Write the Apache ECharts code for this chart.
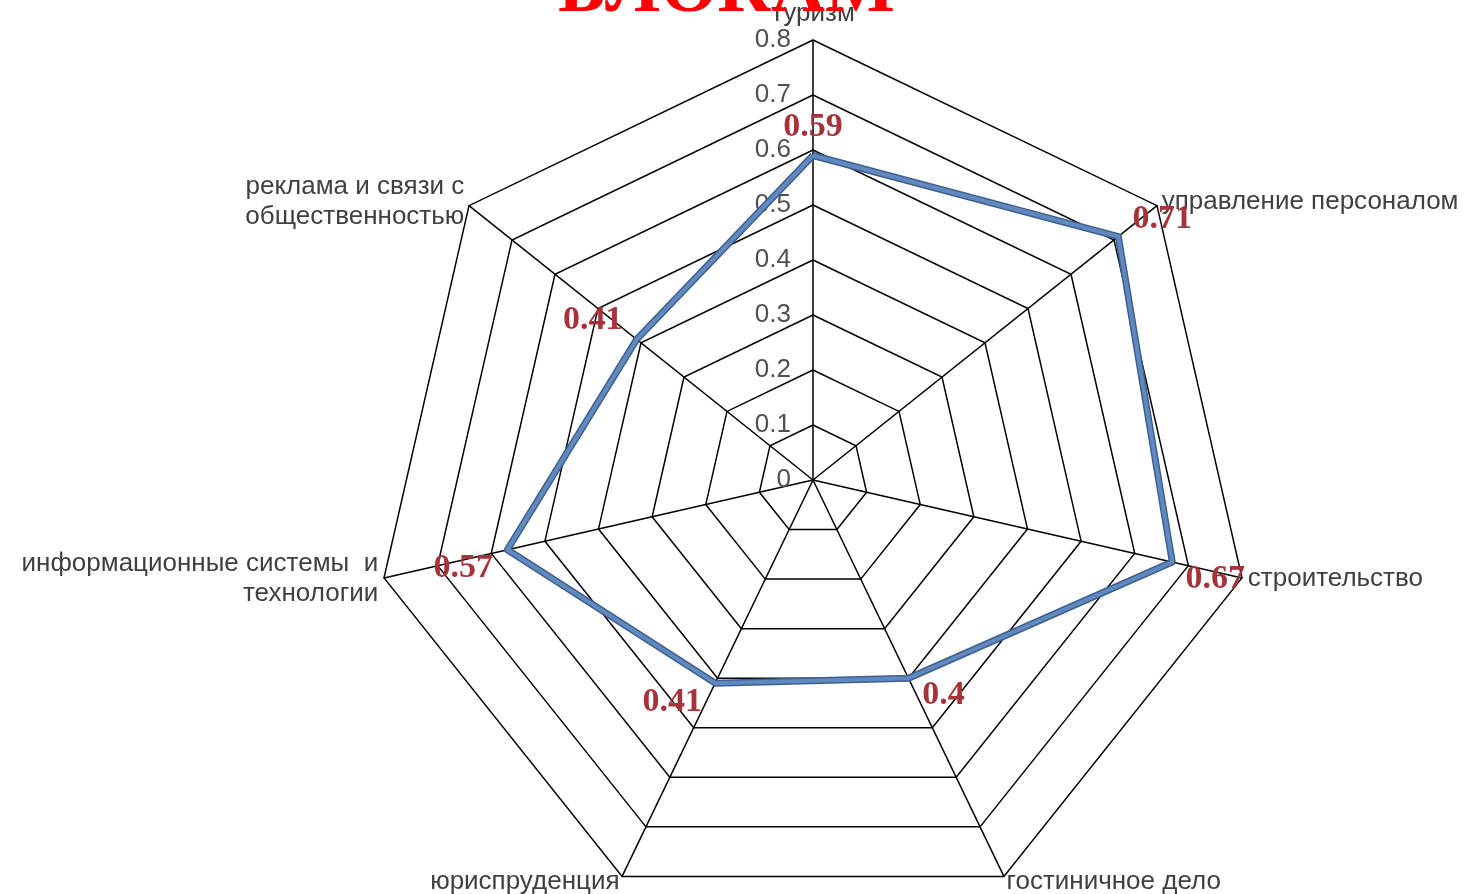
<!DOCTYPE html>
<html><head><meta charset="utf-8">
<script src="https://cdn.jsdelivr.net/npm/echarts@6/dist/echarts.min.js"></script>
<style>html,body{margin:0;padding:0;background:#fff}#c{width:1471px;height:894px}</style>
</head><body><div id="c"></div>
<script>
const titleText = 'БЛОКАМ';
const indicatorNames = ['туризм', 'реклама и связи с\nобщественностью', 'информационные системы  и\nтехнологии', 'юриспруденция', 'гостиничное дело', 'строительство', 'управление персоналом'];
const values = [0.59, 0.41, 0.57, 0.41, 0.4, 0.67, 0.71];
const axisMin = 0;
const axisMax = 0.8;
const tickLabels = ['0', '0.1', '0.2', '0.3', '0.4', '0.5', '0.6', '0.7', '0.8'];

// label placement (style, not data)
const labelOffsets = [[0, -28], [-44, -19], [-44, 18], [-43, 19], [35, 17], [43, 17], [44, -17]];

const chart = echarts.init(document.getElementById('c'));
const step = (axisMax - axisMin) / (tickLabels.length - 1);

const labelSeries = indicatorNames.map((n, i) => ({
  type: 'radar',
  symbol: 'circle',
  symbolSize: 1,
  itemStyle: { color: 'rgba(0,0,0,0)' },
  lineStyle: { opacity: 0, width: 0 },
  z: 6,
  data: [{
    value: values.map((v, j) => (j === i ? v : 0)),
    label: {
      show: true,
      position: 'inside',
      offset: labelOffsets[i],
      formatter: p => (p.value > 0 ? String(p.value) : ''),
      color: '#a8323a',
      fontFamily: '"Liberation Serif", "Times New Roman", serif',
      fontWeight: 'bold',
      fontSize: 34
    }
  }]
}));

chart.setOption({
  animation: false,
  backgroundColor: '#fff',
  title: {
    text: titleText,
    left: 553,
    top: -50,
    textStyle: {
      color: '#ff0000',
      fontFamily: '"Liberation Serif", "Times New Roman", serif',
      fontWeight: 'bold',
      fontSize: 74
    }
  },
  radar: {
    center: [813, 480],
    radius: 440,
    startAngle: 90,
    shape: 'polygon',
    splitNumber: tickLabels.length - 1,
    nameGap: 6,
    indicator: indicatorNames.map((n, i) => {
      const o = { name: n, min: axisMin, max: axisMax };
      if (i === 0) { o.axisLabel = { show: true }; }
      return o;
    }),
    axisName: {
      color: '#404040',
      fontFamily: '"Liberation Sans", Arial, sans-serif',
      fontSize: 26,
      lineHeight: 30,
      formatter: name => (name === indicatorNames[0] ? '{top|' + name + '}' : name),
      rich: {
        top: {
          color: '#404040',
          fontFamily: '"Liberation Sans", Arial, sans-serif',
          fontSize: 26,
          lineHeight: 16
        }
      }
    },
    axisLine: { lineStyle: { color: '#000', width: 1.5 } },
    splitLine: { lineStyle: { color: '#000', width: 1.5 } },
    splitArea: { show: false },
    axisTick: { show: false },
    axisLabel: {
      show: false,
      color: '#505050',
      fontFamily: '"Liberation Sans", Arial, sans-serif',
      fontSize: 26,
      margin: 22,
      formatter: v => tickLabels[Math.round((v - axisMin) / step)]
    }
  },
  series: [{
    type: 'radar',
    symbol: 'none',
    z: 4,
    lineStyle: { color: '#3f5f8f', width: 7 },
    data: [{ value: values }]
  }, {
    type: 'radar',
    symbol: 'none',
    z: 5,
    lineStyle: { color: '#6089c0', width: 4 },
    data: [{ value: values }]
  }].concat(labelSeries)
});
</script>
</body></html>
